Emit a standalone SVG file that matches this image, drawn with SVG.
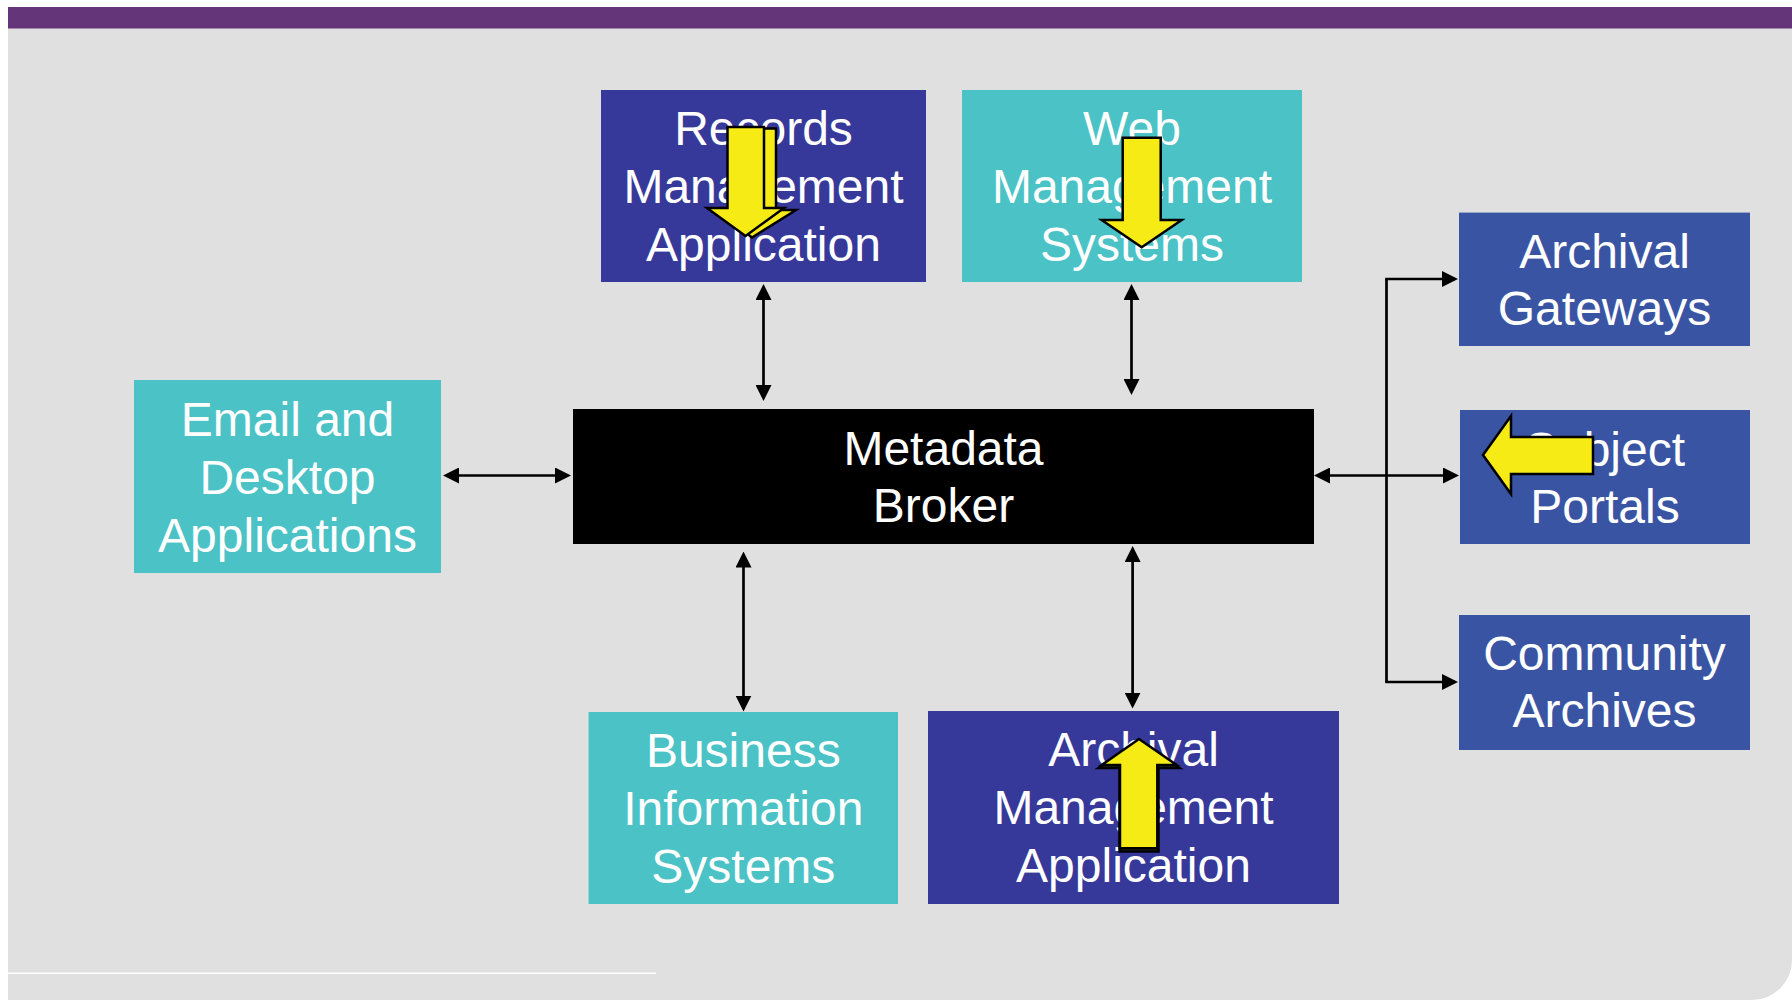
<svg xmlns="http://www.w3.org/2000/svg" width="1792" height="1000" viewBox="0 0 1792 1000">
<defs>
<style>
.lbl{font-family:"Liberation Sans",Arial,Helvetica,sans-serif;font-size:48px;fill:#ffffff;text-anchor:middle}
.indigo{fill:#37399a}
.blue{fill:#3a54a4}
.teal{fill:#4ac2c6}
.conn{fill:none;stroke:#000;stroke-width:2.7;marker-start:url(#ah);marker-end:url(#ah)}
.conn1{fill:none;stroke:#000;stroke-width:2.7;marker-end:url(#ah)}
.yarrow{fill:#f6eb14;stroke:#000;stroke-width:2.5;stroke-linejoin:miter}
</style>
<marker id="ah" viewBox="0 0 16 16" refX="13" refY="8" markerWidth="16" markerHeight="16" markerUnits="userSpaceOnUse" orient="auto-start-reverse">
<path d="M0,0 L16,8 L0,16 Z" fill="#000"/>
</marker>
</defs>
<rect x="0" y="0" width="1792" height="1000" fill="#ffffff"/>
<path d="M8,28 H1792 V960 A40,40 0 0 1 1752,1000 H8 Z" fill="#e0e0e0"/>
<rect x="8" y="7" width="1784" height="21.5" fill="#643578"/>
<line x1="8" y1="973.3" x2="656" y2="973.3" stroke="#ffffff" stroke-width="1.4"/>

<g id="connectors">
<line class="conn" x1="763.5" y1="287" x2="763.5" y2="398"/>
<line class="conn" x1="1131.5" y1="287" x2="1131.5" y2="392"/>
<line class="conn" x1="446" y1="475.5" x2="568" y2="475.5"/>
<line class="conn" x1="743.5" y1="554.5" x2="743.5" y2="708.5"/>
<line class="conn" x1="1132.6" y1="549" x2="1132.6" y2="705.6"/>
<line class="conn" x1="1317" y1="475.5" x2="1456" y2="475.5"/>
<line x1="1386.5" y1="279" x2="1386.5" y2="682" stroke="#000" stroke-width="2.7"/>
<line class="conn1" x1="1385.2" y1="279" x2="1455" y2="279"/>
<line class="conn1" x1="1385.2" y1="682" x2="1455" y2="682"/>
</g>

<g id="records-management-application">
<rect class="indigo" x="601" y="90" width="325" height="192"/>
<text class="lbl" x="763.5" y="145">Records</text>
<text class="lbl" x="763.5" y="203">Management</text>
<text class="lbl" x="763.5" y="261">Application</text>
<polygon class="yarrow" points="738,128.5 776,128.5 776,210 796,210 752,237.5 717,210 738,210"/>
<polygon class="yarrow" points="727.5,127 764,127 764,208 784,208 745.5,236 707,208 727.5,208"/>
</g>

<g id="web-management-systems">
<rect class="teal" x="962" y="90" width="340" height="192"/>
<text class="lbl" x="1132" y="145">Web</text>
<text class="lbl" x="1132" y="203">Management</text>
<text class="lbl" x="1132" y="261">Systems</text>
<polygon class="yarrow" points="1122.7,137.7 1160.7,137.7 1160.7,220 1181.7,220 1141.7,247.3 1101.7,220 1122.7,220"/>
</g>

<g id="email-desktop-applications">
<rect class="teal" x="134" y="380" width="307" height="193"/>
<text class="lbl" x="287.5" y="435.5">Email and</text>
<text class="lbl" x="287.5" y="493.5">Desktop</text>
<text class="lbl" x="287.5" y="551.5">Applications</text>
</g>

<g id="metadata-broker">
<rect x="573" y="409" width="741" height="135" fill="#000"/>
<text class="lbl" x="943.5" y="465">Metadata</text>
<text class="lbl" x="943.5" y="522">Broker</text>
</g>

<g id="archival-gateways">
<rect class="blue" x="1459" y="212.6" width="291" height="133.4"/>
<text class="lbl" x="1604.5" y="268">Archival</text>
<text class="lbl" x="1604.5" y="325">Gateways</text>
</g>

<g id="subject-portals">
<rect class="blue" x="1460" y="410" width="290" height="134"/>
<text class="lbl" x="1605" y="466">Subject</text>
<text class="lbl" x="1605" y="523">Portals</text>
<polygon class="yarrow" points="1593,437 1593,474 1511,474 1511,494 1483,455 1511,416 1511,437"/>
</g>

<g id="community-archives">
<rect class="blue" x="1459" y="615" width="291" height="135"/>
<text class="lbl" x="1604.5" y="670">Community</text>
<text class="lbl" x="1604.5" y="727">Archives</text>
</g>

<g id="business-information-systems">
<rect class="teal" x="588.6" y="712" width="309.4" height="192"/>
<text class="lbl" x="743.3" y="767">Business</text>
<text class="lbl" x="743.3" y="825">Information</text>
<text class="lbl" x="743.3" y="883">Systems</text>
</g>

<g id="archival-management-application">
<rect class="indigo" x="928" y="711" width="411" height="193"/>
<text class="lbl" x="1133.5" y="766">Archival</text>
<text class="lbl" x="1133.5" y="824">Management</text>
<text class="lbl" x="1133.5" y="882">Application</text>
<polygon points="1139,741.5 1179.5,768 1158.5,768 1158.5,851.5 1119.5,851.5 1119.5,768 1098.5,768" fill="#2a2a10" stroke="#000" stroke-width="2.5"/>
<polygon class="yarrow" points="1139,739 1176.7,765 1157.3,765 1157.3,848.3 1120,848.3 1120,765 1101.7,765"/>
</g>
</svg>
